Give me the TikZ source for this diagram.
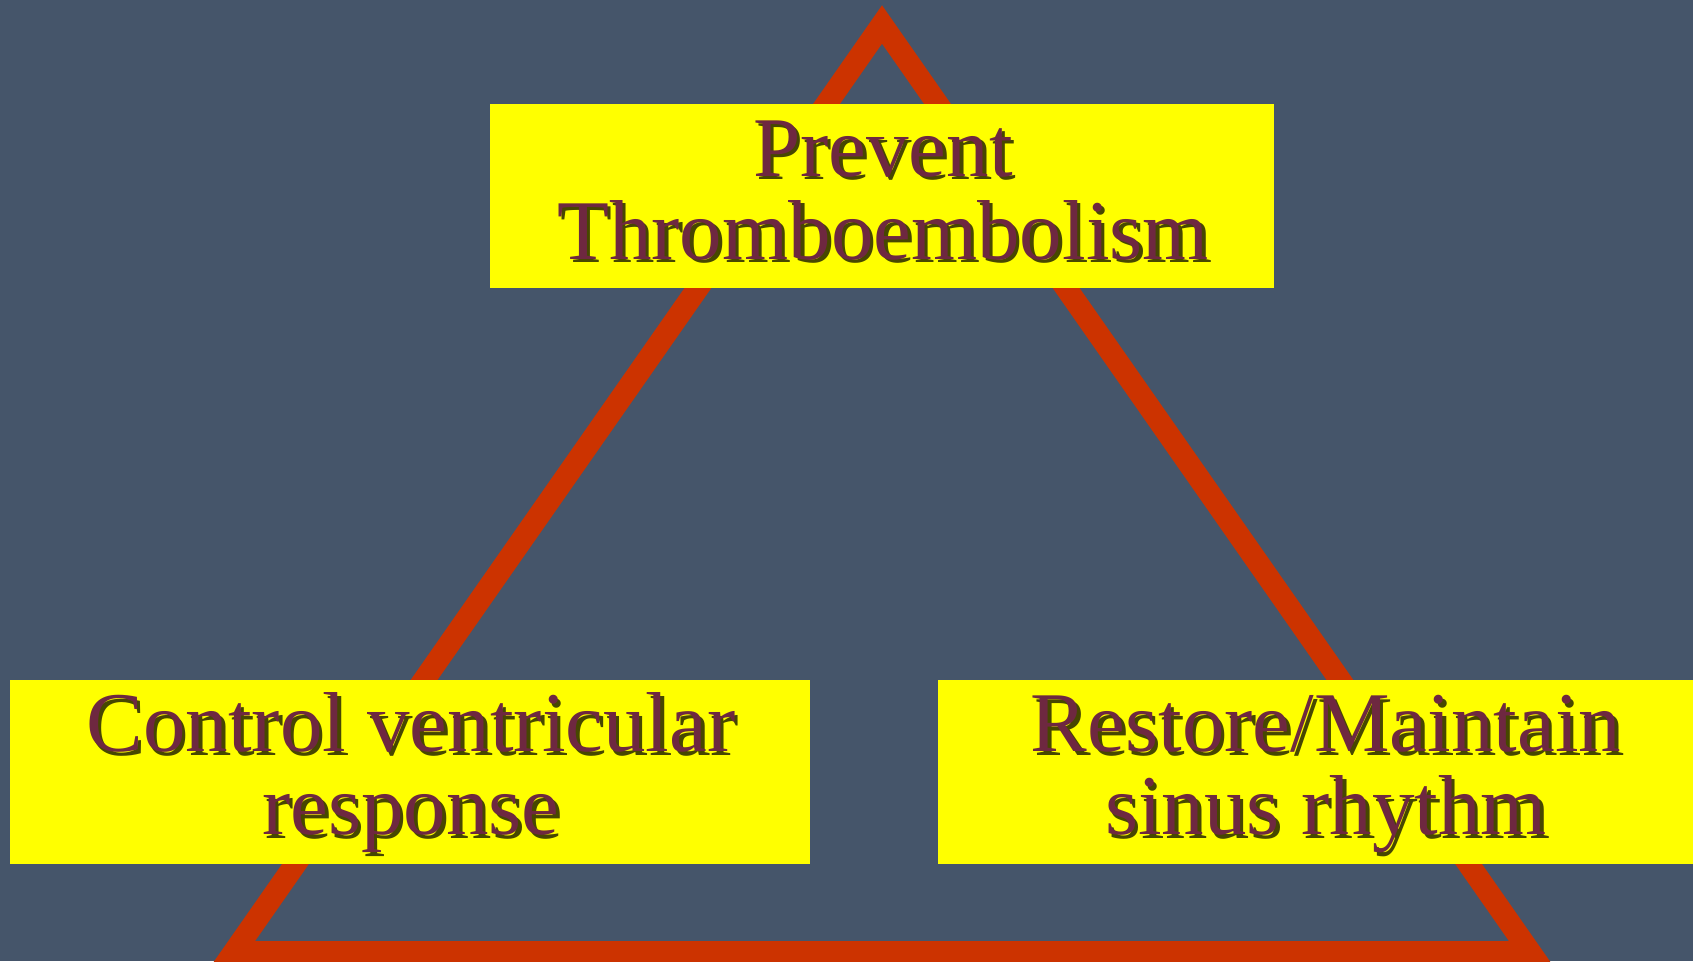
\documentclass[tikz,border=0pt]{standalone}
\usepackage{fontspec}
\setmainfont{Liberation Serif}
\definecolor{bgslate}{RGB}{69,85,106}
\definecolor{trired}{RGB}{204,51,0}
\definecolor{boxyellow}{RGB}{255,255,0}
\definecolor{txtmaroon}{RGB}{110,40,64}
\colorlet{txtshadow}{black!72!boxyellow}
\newcommand{\shd}[1]{\makebox[0pt][l]{\hspace*{3.5pt}\raisebox{-3.5pt}{\color{txtshadow}#1}}#1}
\tikzset{
  boxstyle/.style={fill=boxyellow, draw=none, inner sep=0pt, minimum height=184pt},
  labeltxt/.style={anchor=base, inner sep=0pt, align=center, text=txtmaroon, font=\fontsize{85}{83}\selectfont},
}
\begin{document}
\begin{tikzpicture}[x=1pt,y=-1pt]
\fill[bgslate] (0,0) rectangle (1693,961);
\useasboundingbox (0,0) rectangle (1693,961);
% triangle
\coordinate (apex) at (882,24.5);
\coordinate (bl) at (234,952);
\coordinate (br) at (1530,952);
\draw[trired, line width=22pt, line join=miter] (apex) -- (bl) -- (br) -- cycle;
% boxes
\node[boxstyle, minimum width=784pt] (topbox) at (882,196) {};
\node[boxstyle, minimum width=800pt] (leftbox) at (410,772) {};
\node[boxstyle, minimum width=802pt] (rightbox) at (1339,772) {};
% texts
\node[labeltxt] (toptxt) at (883,259) {\shd{Prevent}\\\shd{Thromboembolism}};
\node[labeltxt] (lefttxt) at (411,834.5) {\shd{Control ventricular}\\\shd{response}};
\node[labeltxt] (righttxt) at (1326,834.5) {\shd{Restore/Maintain}\\\shd{sinus rhythm}};
\end{tikzpicture}
\end{document}
